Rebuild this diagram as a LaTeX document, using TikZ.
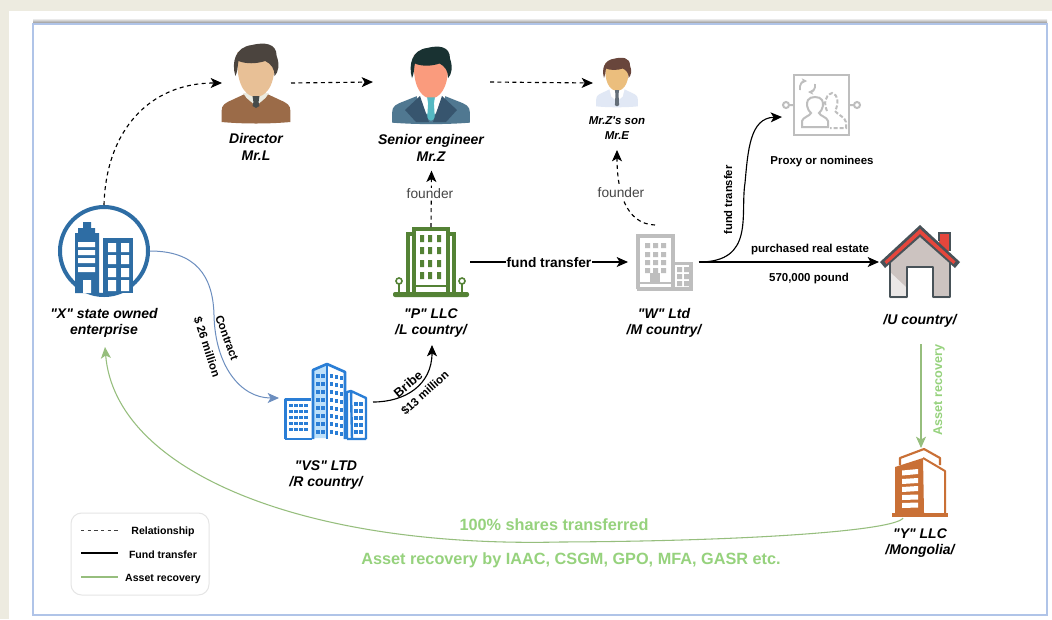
\documentclass[tikz,border=0pt]{standalone}
\usepackage{fontspec}
\setmainfont{Liberation Sans}[Ligatures=TeXOff]
\usetikzlibrary{arrows.meta,fit,shapes.geometric}
\definecolor{pagebg}{RGB}{237,235,224}
\definecolor{panelline}{RGB}{176,196,232}
\definecolor{xblue}{RGB}{46,109,164}
\definecolor{pgreen}{RGB}{84,130,53}
\definecolor{wgray}{RGB}{190,190,190}
\definecolor{vsblue}{RGB}{42,126,214}
\definecolor{vslight}{RGB}{190,225,250}
\definecolor{yorange}{RGB}{201,112,54}
\definecolor{recgreen}{RGB}{150,210,125}
\definecolor{recline}{RGB}{150,190,125}
\definecolor{contractcol}{RGB}{108,142,191}
\definecolor{roofred}{RGB}{229,70,60}
\definecolor{housedark}{RGB}{72,82,88}
\definecolor{housewall}{RGB}{204,195,192}
\definecolor{founderc}{RGB}{70,70,70}
\definecolor{dhair}{RGB}{75,68,62}
\definecolor{dface}{RGB}{232,192,150}
\definecolor{dbody}{RGB}{155,107,72}
\definecolor{dshirt}{RGB}{235,235,225}
\definecolor{dtie}{RGB}{70,75,75}
\definecolor{shair}{RGB}{25,50,50}
\definecolor{sface}{RGB}{250,155,125}
\definecolor{sbody}{RGB}{80,120,145}
\definecolor{slapel}{RGB}{55,85,110}
\definecolor{stie}{RGB}{85,185,195}
\definecolor{ehair}{RGB}{105,70,60}
\definecolor{eface}{RGB}{235,190,125}
\definecolor{ebody}{RGB}{225,232,245}
\definecolor{etie}{RGB}{100,110,120}
\tikzset{
  x=0.75pt,y=-0.75pt,
  iconbox/.style={inner sep=0pt,outer sep=0pt,draw=none},
  lab/.style={font=\bfseries\itshape\fontsize{10.5}{12.4}\selectfont,align=center,inner sep=0.5pt},
  smalllab/.style={font=\bfseries\itshape\fontsize{8.6}{11.2}\selectfont,align=center,inner sep=0.5pt},
  edgelab/.style={font=\bfseries\fontsize{8.6}{10}\selectfont,inner sep=0.5pt},
  legendlab/.style={font=\bfseries\fontsize{7.9}{9}\selectfont,inner sep=0.5pt},
  founderlab/.style={font=\fontsize{10.3}{12}\selectfont,text=founderc,fill=white,inner sep=1pt},
  reclab/.style={font=\bfseries\fontsize{12.2}{14}\selectfont,text=recgreen,inner sep=0.5pt},
  tip/.style={-{Stealth[length=8.5pt,width=7.5pt,inset=2.2pt]}},
  relation/.style={tip,line width=0.85pt,dash pattern=on 3pt off 2.6pt,black},
  fund/.style={tip,line width=0.85pt,black},
  contractedge/.style={tip,line width=0.75pt,contractcol},
  recovery/.style={tip,line width=0.8pt,recline},
}
% person icon: #1 cx, #2 top, #3 xscale, #4 yscale, #5 hair, #6 face, #7 body, #8 shirt, #9 tie
% \headw head width factor, \collarb collar depth, \tieb tie depth
\newcommand{\personicon}[9]{%
\begin{scope}[shift={(#1,#2)},xscale=#3,yscale=#4]
  \fill[#7] (-40,78) -- (-40,67) .. controls (-40,61) and (-36,59) .. (-28,56) -- (-13,50) -- (13,50) -- (28,56) .. controls (36,59) and (40,61) .. (40,67) -- (40,78) .. controls (15,80) and (-15,80) .. (-40,78) -- cycle;
  \fill[#8] (-15,49) -- (15,49) -- (11,\collarb-8) -- (0,\collarb) -- (-11,\collarb-8) -- cycle;
  \begin{scope}[xscale=\headw]
  \fill[#6] (-18,20) .. controls (-18,44) and (-8,53) .. (0,53) .. controls (8,53) and (18,44) .. (18,20) -- (18,8) -- (-18,8) -- cycle;
  \fill[#5] (-20,32) .. controls (-24,18) and (-20,3) .. (-4,1) .. controls (8,-2) and (20,-1) .. (20,12) .. controls (23,20) and (22,28) .. (18,32) .. controls (18,25) and (15,20) .. (9,17) .. controls (0,20) and (-10,20) .. (-17,17) .. controls (-18,24) and (-18,28) .. (-20,32) -- cycle;
  \end{scope}
  \fill[#9] (-4,52) -- (4,52) -- (3,58) -- (4,\tieb-2) -- (0,\tieb) -- (-4,\tieb-2) -- (-3,58) -- cycle;
\end{scope}}
\begin{document}
\begin{tikzpicture}
\useasboundingbox (0,0) rectangle (1052,619);
\fill[pagebg] (0,0) rectangle (1052,619);
\fill[white] (9,11) rectangle (1052,619);
% panel
\shade[top color=white,bottom color=black!50] (33,18) rectangle (1047,24);
\fill[white] (33,24) rectangle (1047,615);
\draw[panelline,line width=1pt] (33,24) rectangle (1047,615);

% ---------- icon boxes (connector ends)
\node[iconbox,fit={(58,205)(150,297)}] (xent) {};
\node[iconbox,fit={(222,44)(291,122)}] (dir) {};
\node[iconbox,fit={(373,42)(490,122)}] (sen) {};
\node[iconbox,fit={(593,16)(641,150)}] (son) {};
\node[iconbox,fit={(392,227)(470,297)}] (pllc) {};
\node[iconbox,fit={(628,225)(699,299)}] (wltd) {};
\node[iconbox,fit={(782,74)(860,160)}] (proxy) {};
\node[iconbox,fit={(879,225)(961,299)}] (house) {};
\node[iconbox,fit={(279,362)(373,434)}] (vs) {};
\node[iconbox,fit={(892,448)(950,518)}] (yllc) {};
\node[iconbox,fit={(431,170)(432,170)}] (senlow) {};
\coordinate (wup) at (655,225);
\coordinate (vsout) at (373,402);
\coordinate (pin) at (432,345);
\coordinate (uout) at (921,344);
\coordinate (yout) at (903,518);
\coordinate (xin) at (105,347);
\coordinate (l1a) at (81,530); \coordinate (l1b) at (118,530);
\coordinate (l2a) at (81,553); \coordinate (l2b) at (118,553);
\coordinate (l3a) at (81,577); \coordinate (l3b) at (118,577);

% ---------- X enterprise
\draw[xblue,line width=3pt] (104,251) circle[radius=44];
\fill[xblue] (83,222) rectangle (91,230) (78,228) rectangle (95,234) (75,233) rectangle (99,293);
\fill[white] (78,242) rectangle (95,247) (78,250) rectangle (95,255) (78,258) rectangle (95,263) (78,267) rectangle (95,272) (83,280) rectangle (91,293);
\fill[xblue] (103,238) rectangle (133,293);
\foreach \a/\b in {243/252,255/264,268/277,280/291}{
  \fill[white] (108,\a) rectangle (116,\b) (121,\a) rectangle (129,\b);
}

% ---------- persons
\def\headw{1.2}\def\collarb{62}\def\tieb{64}
\personicon{256}{44}{0.86}{1}{dhair}{dface}{dbody}{dshirt}{dtie}
\def\headw{0.98}\def\collarb{72}\def\tieb{76}
\personicon{431}{47}{0.97}{0.97}{shair}{sface}{sbody}{white}{stie}
\fill[slapel] (405,110) -- (420,96) -- (429,122) -- (416,122) -- cycle (457,110) -- (442,96) -- (433,122) -- (446,122) -- cycle;
\def\headw{1.25}\def\collarb{70}\def\tieb{78}
\personicon{617}{58}{0.52}{0.62}{ehair}{eface}{ebody}{white}{etie}

% ---------- P LLC
\begin{scope}[pgreen]
\fill[rounded corners=1.5pt] (393,292) rectangle (469,297);
\draw[line width=2.4pt] (414,292) -- (414,229) -- (448,229) -- (448,292);
\draw[line width=2.4pt] (414,234) -- (408,234) -- (408,292);
\draw[line width=2.4pt] (448,234) -- (454,234) -- (454,292);
\draw[line width=1.4pt] (414,286) -- (448,286);
\foreach \a in {235,247,260,272}{
  \fill (420,\a) rectangle (424,\a+7) (428,\a) rectangle (432,\a+7) (437,\a) rectangle (441,\a+7);
}
\draw[line width=1.2pt] (399,281) circle[radius=3] (399,284) -- (399,292);
\draw[line width=1.2pt] (462,281) circle[radius=3] (462,284) -- (462,292);
\end{scope}

% ---------- W Ltd
\begin{scope}[wgray]
\draw[line width=2.6pt] (638,289) -- (638,236) -- (673,236) -- (673,289);
\draw[line width=2.6pt] (637,289) -- (691,289) -- (691,263.5) -- (673,263.5);
\draw[line width=1pt] (637,283) -- (673,283);
\foreach \a in {243,252,260,268}{
  \fill (645,\a) rectangle (650,\a+5) (653,\a) rectangle (658,\a+5) (661,\a) rectangle (666,\a+5);
}
\fill (650,273) rectangle (660,284);
\foreach \a in {267,274,281}{
  \fill (677,\a) rectangle (682,\a+5) (684,\a) rectangle (689,\a+5);
}
\end{scope}

% ---------- Proxy
\begin{scope}[wgray]
\draw[line width=2.1pt] (794,75) rectangle (849,135);
\draw[line width=1.5pt] (786,105) circle[radius=3] (789,105) -- (794,105) (857,105) circle[radius=3] (854,105) -- (849,105);
\draw[line width=1.5pt] (807,127) -- (802,127) -- (802,121) .. controls (803,117) and (810,116) .. (811,113) .. controls (807,110) and (806,103) .. (808,100) .. controls (810,96) and (820,96) .. (822,100) .. controls (824,103) and (823,110) .. (819,113) .. controls (820,116) and (827,117) .. (828,121) -- (828,127) -- cycle;
\draw[line width=1.5pt,dash pattern=on 3pt off 1.5pt] (827,111) .. controls (824,104) and (824,96) .. (832,93) .. controls (838,94) and (839,104) .. (835,111) .. controls (838,115) and (845,117) .. (846,122) -- (846,128) -- (830,128);
\draw[line width=1.4pt,-{Stealth[length=4pt,width=4pt]}] (800,90) .. controls (799,84) and (803,81) .. (807,81);
\draw[line width=1.4pt,-{Stealth[length=4pt,width=4pt]}] (815,84) .. controls (816,89) and (812,92) .. (808,92);
\end{scope}

% ---------- House
\fill[housewall] (890,258) -- (920,232) -- (950,258) -- (950,298) -- (933,298) -- (933,267) -- (907,267) -- (907,298) -- (890,298) -- cycle;
\fill[white!60!housewall] (890,272) -- (907,288) -- (907,298) -- (890,298) -- cycle;
\draw[housedark,line width=2.1pt,line join=round] (890,260) -- (890,297) -- (907,297) -- (907,267) -- (933,267) -- (933,297) -- (950,297) -- (950,260);
\fill[roofred] (939,233) rectangle (950,251);
\draw[housedark,line width=2.1pt] (939,241) -- (939,233) -- (950,233) -- (950,251);
\fill[housedark] (880,262) -- (920,225) -- (960,262) -- (955,268) -- (920,237) -- (885,268) -- cycle;
\fill[roofred] (884.5,261.5) -- (920,229) -- (955.5,261.5) -- (953.5,264) -- (920,234) -- (886.5,264) -- cycle;

% ---------- VS
\begin{scope}[vsblue]
\fill[vslight] (313,370) -- (327,364) -- (327,438) -- (313,438) -- cycle;
\draw[line width=1.7pt,line join=round] (285.5,439) -- (285.5,399.5) -- (311,399.5);
\draw[line width=1.7pt] (285,438.7) -- (312,438.7);
\draw[line width=2pt,line join=round] (313,439) -- (313,370) -- (327,364) -- (345,372) -- (345,439);
\draw[line width=2pt] (327,364) -- (327,439);
\draw[line width=1.8pt,line join=round] (347,439) -- (347,392) -- (351,391) -- (366,398) -- (366,439) (347,439) -- (366,439) (351,391) -- (352,439);
\foreach \y in {405,411,417,423,429}{
  \foreach \x in {291,296,301,306}{ \fill (\x-2,\y-1.5) rectangle (\x+2,\y+1.5); }
}
\foreach \y in {376,384,392,400,408,416,424,432}{
  \foreach \x in {318,323}{ \fill (\x-1.6,\y-2) rectangle (\x+1.6,\y+2); }
  \foreach \x in {331,336,341}{ \fill (\x-1.5,\y-2+\x*0.2-66) rectangle (\x+1.5,\y+2+\x*0.2-66); }
}
\foreach \y in {404,411,418,425,432}{
  \foreach \x in {356,361}{ \fill (\x-1.6,\y-1.7) rectangle (\x+1.6,\y+1.7); }
}
\end{scope}

% ---------- Y LLC
\begin{scope}[yorange]
\fill (892,513) rectangle (948,517);
\fill (895,513) -- (895,467) -- (923,458) -- (924,513) -- cycle;
\draw[line width=1.5pt,line join=round] (923,458) -- (945,471) -- (945,513);
\draw[line width=1.6pt,line join=round] (900,465) -- (900,458) -- (924,449) -- (940,458) -- (940,465);
\end{scope}
\fill[white] (902,470.5) -- (918,469) -- (918,474) -- (902,475.5) -- cycle
  (902,479) -- (918,478) -- (918,483) -- (902,484) -- cycle
  (902,487) -- (918,486) -- (918,491) -- (902,492) -- cycle
  (902,495) -- (918,494.5) -- (918,499.5) -- (902,500) -- cycle
  (902,503) -- (918,502.5) -- (918,507.5) -- (902,508) -- cycle;

% ---------- connectors
\draw[relation] (xent.north) .. controls (106,130) and (150,83) .. (dir.west);
\draw[relation] (dir.east) -- (sen.west);
\draw[relation] (sen.east) -- (son.west);
\draw[relation] (pllc.north) -- (senlow.south);
\draw[relation] (wup) .. controls (625,224) and (617,190) .. (son.south);
\draw[fund] (pllc.east) -- (wltd.west);
\draw[fund] (wltd.east) .. controls (755,262) and (740,215) .. (745,183) .. controls (748,150) and (750,118) .. (proxy.west);
\draw[fund] (wltd.east) -- (house.west);
\draw[contractedge] (xent.east) .. controls (195,251) and (213,275) .. (214,315) .. controls (215,365) and (240,398) .. (vs.west);
\draw[fund] (vsout) .. controls (405,402) and (432,385) .. (pin);
\draw[recovery] (uout) -- (yllc.north);
\draw[recovery] (yout) .. controls (896,530) and (760,541) .. (560,542) .. controls (300,548) and (115,470) .. (xin);

% ---------- labels
\node[lab] (xlab) at (104,323) {"X" state owned\\enterprise};
\node[lab] (dirlab) at (256,147) {Director\\Mr.L};
\node[lab] (senlab) at (431,148) {Senior engineer\\Mr.Z};
\node[smalllab] (sonlab) at (617,128.5) {Mr.Z's son\\Mr.E};
\node[lab] (plab) at (431,323) {"P" LLC\\/L country/};
\node[lab] (wlab) at (664,323) {"W" Ltd\\/M country/};
\node[lab] (vslab) at (326,475) {"VS" LTD\\/R country/};
\node[lab] (ulab) at (920,321) {/U country/};
\node[lab,fill=white,inner sep=1pt] (ylab) at (920,543) {"Y" LLC\\/Mongolia/};
\node[edgelab] (proxylab) at (822,162) {Proxy or nominees};
\node[founderlab] (f1) at (430,194) {founder};
\node[founderlab] (f2) at (621,193) {founder};
\node[edgelab,font=\bfseries\fontsize{10.3}{12}\selectfont,fill=white] (ft1) at (549,263) {fund transfer};
\node[edgelab,rotate=90,font=\bfseries\fontsize{8.4}{10}\selectfont] (ft2) at (728,200) {fund transfer};
\node[edgelab] (pre) at (810,250) {purchased real estate};
\node[edgelab] (pnd) at (809,279) {570,000 pound};
\node[edgelab,rotate=-70] (con) at (227,338) {Contract};
\node[edgelab,rotate=-72] (m26) at (207,347) {\$ 26 million};
\node[edgelab,rotate=40,font=\bfseries\fontsize{9.6}{11}\selectfont] (bri) at (408,384) {Bribe};
\node[edgelab,rotate=42] (m13) at (425,393) {\$13 million};
\node[edgelab,rotate=90,text=recgreen,font=\bfseries\fontsize{9.5}{11}\selectfont] (arv) at (939,390) {Asset recovery};
\node[reclab] (sh) at (554,525) {100\% shares transferred};
\node[reclab] (ar) at (571,560) {Asset recovery by IAAC, CSGM, GPO, MFA, GASR etc.};

% ---------- legend
\draw[black!10,line width=0.75pt,fill=white,rounded corners=8pt] (71,513) rectangle (209,595);
\draw[black!75,line width=0.75pt,dash pattern=on 2.5pt off 2.5pt] (l1a) -- (l1b);
\draw[black,line width=0.9pt] (l2a) -- (l2b);
\draw[recline,line width=0.9pt] (l3a) -- (l3b);
\node[legendlab] (lg1) at (163,531.5) {Relationship};
\node[legendlab] (lg2) at (163,554.5) {Fund transfer};
\node[legendlab] (lg3) at (163,578.5) {Asset recovery};
\end{tikzpicture}
\end{document}
